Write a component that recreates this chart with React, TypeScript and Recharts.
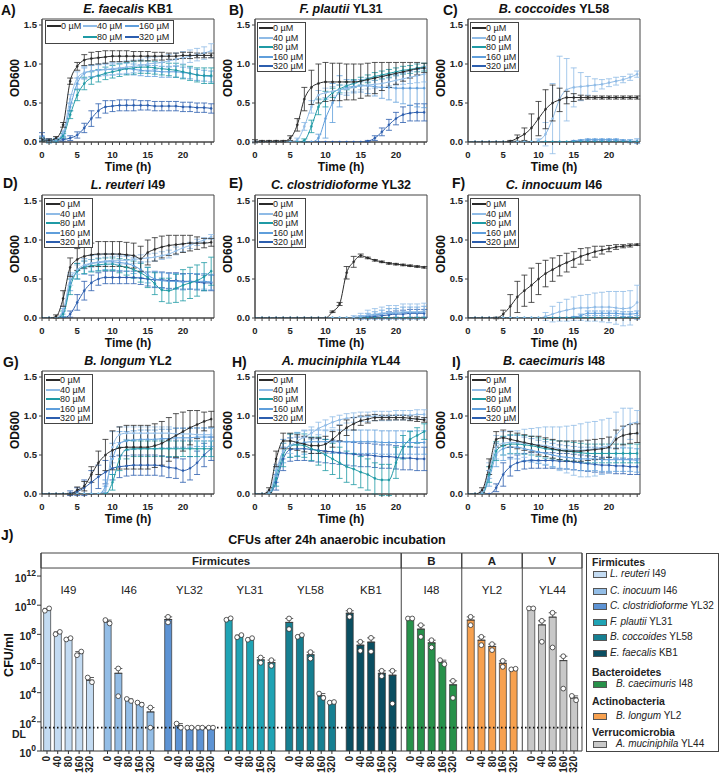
import React from 'react';
import {
  LineChart, Line, XAxis, YAxis, ErrorBar, ReferenceArea, ReferenceLine,
  ComposedChart, Bar, Cell, Scatter,
} from 'recharts';

const FONT = '"Liberation Sans", Arial, Helvetica, sans-serif';

// ---------- growth curves (OD600, hourly 0..24 h) ----------
const HOURS = [0,1,2,3,4,5,6,7,8,9,10,11,12,13,14,15,16,17,18,19,20,21,22,23,24];
const CONC_LABELS = ['0 µM', '40 µM', '80 µM', '160 µM', '320 µM'];
const SERIES_COLORS = ['#2b2b2b', '#8fbbe6', '#1f9aa5', '#5f9edb', '#2c5eae'];
const ZERO_OD = [0,0,0,0,0, 0,0,0,0,0, 0,0,0,0,0, 0,0,0,0,0, 0,0,0,0,0];

// A) E. faecalis KB1
const A0  = [0.03,0.02,0.05,0.22,0.78, 0.97,1.05,1.07,1.08,1.09, 1.10,1.10,1.10,1.10,1.10, 1.10,1.10,1.10,1.10,1.10, 1.11,1.11,1.11,1.11,1.11];
const A0e = [0.02,0.02,0.02,0.03,0.04, 0.05,0.07,0.08,0.08,0.08, 0.07,0.07,0.07,0.06,0.06, 0.06,0.05,0.05,0.04,0.04, 0.04,0.04,0.03,0.03,0.03];
const A40 = [0.05,0.01,0.03,0.12,0.55, 0.82,0.89,0.91,0.92,0.93, 0.94,0.95,0.96,0.97,0.98, 1.00,1.01,1.02,1.04,1.06, 1.08,1.10,1.12,1.14,1.17];
const A40e= [0.03,0.02,0.02,0.03,0.06, 0.08,0.08,0.08,0.08,0.08, 0.08,0.08,0.08,0.08,0.08, 0.08,0.08,0.08,0.08,0.08, 0.08,0.08,0.08,0.08,0.09];
const A80 = [0.03,0.01,0.02,0.08,0.35, 0.60,0.75,0.82,0.85,0.88, 0.90,0.92,0.94,0.95,0.96, 0.96,0.95,0.94,0.93,0.92, 0.90,0.88,0.86,0.85,0.85];
const A80e= [0.02,0.02,0.02,0.03,0.05, 0.07,0.08,0.08,0.08,0.08, 0.08,0.08,0.08,0.08,0.08, 0.08,0.08,0.08,0.08,0.09, 0.09,0.09,0.09,0.10,0.10];
const A160= [0.04,0.01,0.02,0.10,0.45, 0.75,0.88,0.91,0.92,0.93, 0.93,0.94,0.94,0.93,0.92, 0.91,0.91,0.90,0.90,0.90, 0.89,0.88,0.86,0.85,0.84];
const A160e=[0.03,0.02,0.02,0.03,0.05, 0.07,0.07,0.07,0.07,0.07, 0.07,0.07,0.07,0.07,0.07, 0.07,0.07,0.07,0.07,0.07, 0.07,0.07,0.07,0.07,0.07];
const A320= [0.08,0.02,0.02,0.03,0.05, 0.09,0.18,0.30,0.40,0.45, 0.46,0.47,0.47,0.47,0.47, 0.47,0.46,0.46,0.46,0.46, 0.45,0.45,0.44,0.44,0.43];
const A320e=[0.04,0.02,0.02,0.02,0.03, 0.04,0.06,0.10,0.09,0.08, 0.07,0.07,0.07,0.07,0.06, 0.06,0.06,0.06,0.06,0.06, 0.06,0.06,0.06,0.06,0.06];

// B) F. plautii YL31
const B0  = [0.01,0.01,0.01,0.01,0.01, 0.05,0.22,0.55,0.70,0.75, 0.77,0.77,0.77,0.77,0.77, 0.78,0.80,0.82,0.84,0.86, 0.88,0.90,0.92,0.94,0.95];
const B0e = [0.02,0.01,0.01,0.01,0.01, 0.03,0.08,0.15,0.22,0.25, 0.25,0.24,0.24,0.23,0.23, 0.22,0.21,0.20,0.18,0.16, 0.14,0.12,0.10,0.08,0.06];
const B40 = [0,0,0,0,0, 0,0.03,0.20,0.45,0.60, 0.63,0.65,0.67,0.68,0.70, 0.72,0.73,0.74,0.75,0.77, 0.79,0.81,0.83,0.85,0.87];
const B40e= [0.01,0,0,0,0, 0,0.02,0.05,0.08,0.06, 0.06,0.06,0.06,0.05,0.05, 0.05,0.05,0.05,0.05,0.05, 0.06,0.07,0.08,0.09,0.10];
const B80 = [0,0,0,0,0, 0,0,0.02,0.20,0.45, 0.55,0.63,0.68,0.72,0.75, 0.78,0.81,0.84,0.86,0.88, 0.90,0.92,0.93,0.95,0.96];
const B80e= [0,0,0,0,0, 0,0,0.02,0.08,0.10, 0.10,0.06,0.05,0.05,0.05, 0.05,0.05,0.05,0.05,0.05, 0.05,0.05,0.05,0.05,0.05];
const B160= [0,0,0,0,0, 0,0,0,0,0.05, 0.30,0.50,0.65,0.70,0.71, 0.72,0.72,0.71,0.70,0.70, 0.69,0.69,0.69,0.69,0.69];
const B160e=[0,0,0,0,0, 0,0,0,0,0.05, 0.25,0.25,0.20,0.10,0.08, 0.08,0.10,0.12,0.14,0.16, 0.18,0.20,0.22,0.24,0.25];
const B320= [0,0,0,0,0, 0,0,0,0,0, 0,0,0,0,0, 0,0.01,0.05,0.13,0.22, 0.30,0.35,0.37,0.38,0.38];
const B320e=[0,0,0,0,0, 0,0,0,0,0, 0,0,0,0,0, 0,0.01,0.03,0.05,0.07, 0.08,0.10,0.10,0.11,0.11];

// C) B. coccoides YL58
const C0  = [0,0,0,0,0, 0,0.01,0.05,0.10,0.18, 0.30,0.42,0.50,0.54,0.57, 0.57,0.57,0.57,0.57,0.57, 0.57,0.57,0.57,0.57,0.57];
const C0e = [0,0,0,0,0, 0,0.01,0.04,0.08,0.18, 0.22,0.25,0.23,0.15,0.08, 0.05,0.03,0.02,0.02,0.02, 0.02,0.02,0.02,0.02,0.02];
const C40 = [0,0,0,0,0, 0,0,0,0,0, 0.02,0.10,0.30,0.55,0.67, 0.70,0.71,0.72,0.73,0.74, 0.76,0.78,0.80,0.83,0.87];
const C40e= [0,0,0,0,0, 0,0,0,0,0, 0.02,0.15,0.45,0.55,0.40, 0.25,0.18,0.12,0.08,0.06, 0.05,0.05,0.04,0.04,0.04];
const C160= [0,0,0,0,0, 0,0,0,0,0, 0,0,0,0,0, 0.01,0.02,0.03,0.03,0.03, 0.03,0.03,0.02,0.01,0.01];
const C160e=[0,0,0,0,0, 0,0,0,0,0, 0,0,0,0,0, 0.01,0.01,0.01,0.01,0.01, 0.01,0.01,0.01,0.02,0.03];
const C320= [0,0,0,0,0, 0,0,0,0,0, 0,0,0,0,0, 0.01,0,0,0,0, 0,0,0,0,0];

// D) L. reuteri I49
const D0  = [0,0,0.02,0.25,0.65, 0.75,0.79,0.81,0.82,0.82, 0.82,0.82,0.81,0.80,0.76, 0.84,0.88,0.91,0.93,0.94, 0.95,0.96,0.96,0.96,0.97];
const D0e = [0,0,0.02,0.10,0.12, 0.14,0.15,0.15,0.16,0.16, 0.16,0.16,0.16,0.16,0.16, 0.16,0.15,0.14,0.13,0.12, 0.11,0.10,0.08,0.06,0.05];
const D40 = [0,0,0,0.10,0.50, 0.62,0.68,0.70,0.72,0.73, 0.74,0.74,0.74,0.75,0.76, 0.77,0.78,0.80,0.82,0.86, 0.90,0.93,0.97,1.00,1.04];
const D40e= [0,0,0,0.05,0.08, 0.06,0.05,0.05,0.05,0.05, 0.05,0.05,0.05,0.05,0.05, 0.05,0.05,0.05,0.05,0.05, 0.05,0.04,0.04,0.03,0.03];
const D80 = [0,0,0,0.05,0.40, 0.60,0.65,0.67,0.68,0.69, 0.69,0.67,0.65,0.62,0.58, 0.52,0.44,0.36,0.35,0.38, 0.42,0.45,0.48,0.53,0.60];
const D80e= [0,0,0,0.04,0.10, 0.10,0.08,0.08,0.08,0.08, 0.08,0.09,0.10,0.11,0.12, 0.13,0.14,0.15,0.16,0.18, 0.20,0.20,0.20,0.18,0.18];
const D160= [0,0,0,0.07,0.45, 0.60,0.66,0.70,0.71,0.72, 0.72,0.71,0.70,0.67,0.62, 0.55,0.50,0.48,0.47,0.47, 0.46,0.47,0.47,0.47,0.46];
const D160e=[0,0,0,0.05,0.10, 0.10,0.10,0.10,0.10,0.10, 0.10,0.10,0.10,0.10,0.10, 0.10,0.10,0.10,0.10,0.10, 0.10,0.10,0.10,0.10,0.10];
const D320= [0,0,0,0,0.05, 0.20,0.35,0.45,0.50,0.52, 0.52,0.52,0.52,0.52,0.51, 0.50,0.49,0.49,0.48,0.48, 0.47,0.47,0.46,0.45,0.45];
const D320e=[0,0,0,0,0.04, 0.10,0.12,0.10,0.08,0.08, 0.08,0.08,0.08,0.08,0.08, 0.09,0.10,0.10,0.10,0.10, 0.10,0.10,0.10,0.10,0.10];

// E) C. clostridioforme YL32
const E0  = [0,0,0,0,0, 0,0,0,0,0, 0,0.08,0.18,0.58,0.72, 0.80,0.77,0.74,0.72,0.70, 0.69,0.68,0.67,0.66,0.65];
const E0e = [0,0,0,0,0, 0,0,0,0,0, 0,0.01,0.02,0.08,0.07, 0.02,0.01,0.01,0.01,0.01, 0.01,0.01,0.01,0.01,0.01];
const E40 = [0,0,0,0,0, 0,0,0,0,0, 0,0,0,0,0.01, 0.02,0.04,0.05,0.06,0.07, 0.07,0.08,0.08,0.08,0.09];
const E40e= [0,0,0,0,0, 0,0,0,0,0, 0,0,0,0,0.02, 0.04,0.06,0.07,0.08,0.09, 0.09,0.10,0.10,0.10,0.10];
const E160= [0,0,0,0,0, 0,0,0,0,0, 0,0,0,0,0, 0.01,0.03,0.04,0.05,0.06, 0.06,0.07,0.07,0.07,0.08];
const E160e=[0,0,0,0,0, 0,0,0,0,0, 0,0,0,0,0, 0.02,0.03,0.04,0.05,0.06, 0.06,0.07,0.07,0.07,0.07];
const E320= [0,0,0,0,0, 0,0,0,0,0, 0,0,0,0,0, 0,0.01,0.02,0.03,0.04, 0.05,0.05,0.06,0.06,0.06];
const E320e=[0,0,0,0,0, 0,0,0,0,0, 0,0,0,0,0, 0,0.01,0.02,0.03,0.04, 0.04,0.05,0.05,0.05,0.05];

// F) C. innocuum I46
const F0  = [0,0,0,0,0, 0.05,0.15,0.27,0.35,0.42, 0.50,0.57,0.62,0.67,0.71, 0.75,0.79,0.82,0.85,0.87, 0.89,0.91,0.92,0.93,0.94];
const F0e = [0,0,0,0,0.01, 0.05,0.15,0.20,0.20,0.22, 0.20,0.17,0.15,0.13,0.12, 0.10,0.10,0.08,0.07,0.05, 0.04,0.03,0.02,0.02,0.01];
const F40 = [0,0,0,0,0, 0,0,0,0,0, 0,0.02,0.05,0.08,0.10, 0.12,0.13,0.13,0.14,0.14, 0.14,0.13,0.12,0.13,0.20];
const F40e= [0,0,0,0,0, 0,0,0,0,0, 0,0.05,0.10,0.12,0.14, 0.15,0.16,0.17,0.18,0.19, 0.20,0.21,0.22,0.22,0.22];
const F160= [0,0,0,0,0, 0,0,0,0,0, 0,0,0,0,0, 0.01,0.03,0.06,0.06,0.06, 0.06,0.06,0.05,0.05,0.06];
const F160e=[0,0,0,0,0, 0,0,0,0,0, 0,0,0,0,0, 0.01,0.02,0.03,0.03,0.03, 0.03,0.03,0.03,0.03,0.03];

// G) B. longum YL2
const G0  = [0,0,0,0,0, 0.05,0.10,0.25,0.40,0.50, 0.56,0.59,0.60,0.60,0.60, 0.60,0.62,0.65,0.70,0.75, 0.80,0.85,0.89,0.93,0.96];
const G0e = [0,0,0,0,0.01, 0.04,0.06,0.10,0.15,0.20, 0.25,0.27,0.28,0.28,0.28, 0.28,0.28,0.28,0.28,0.28, 0.25,0.22,0.18,0.12,0.10];
const G40 = [0,0,0,0,0, 0,0,0,0,0.05, 0.60,0.76,0.78,0.78,0.78, 0.78,0.78,0.78,0.78,0.77, 0.77,0.77,0.76,0.76,0.76];
const G40e= [0,0,0,0,0, 0,0,0,0,0.05, 0.20,0.10,0.08,0.08,0.08, 0.08,0.08,0.08,0.08,0.08, 0.08,0.08,0.08,0.08,0.08];
const G80 = [0,0,0,0,0, 0,0,0,0,0, 0.15,0.45,0.57,0.58,0.58, 0.58,0.58,0.58,0.58,0.58, 0.58,0.58,0.58,0.58,0.58];
const G80e= [0,0,0,0,0, 0,0,0,0,0, 0.10,0.15,0.12,0.10,0.10, 0.10,0.10,0.10,0.10,0.10, 0.10,0.10,0.10,0.10,0.10];
const G160= [0,0,0,0,0, 0,0,0,0,0.10, 0.45,0.65,0.68,0.69,0.70, 0.70,0.70,0.71,0.71,0.72, 0.72,0.72,0.73,0.73,0.73];
const G160e=[0,0,0,0,0, 0,0,0,0,0.08, 0.20,0.15,0.12,0.12,0.12, 0.12,0.12,0.12,0.12,0.12, 0.12,0.12,0.12,0.12,0.12];
const G320= [0,0,0,0,0.01, 0.03,0.08,0.15,0.22,0.28, 0.33,0.35,0.36,0.37,0.37, 0.37,0.37,0.36,0.34,0.33, 0.30,0.33,0.40,0.50,0.58];
const G320e=[0,0,0,0,0.03, 0.05,0.10,0.15,0.15,0.15, 0.15,0.14,0.13,0.13,0.13, 0.13,0.13,0.13,0.13,0.13, 0.15,0.15,0.15,0.15,0.15];

// H) A. muciniphila YL44
const H0  = [0,0,0.05,0.45,0.68, 0.68,0.66,0.64,0.62,0.62, 0.64,0.70,0.78,0.85,0.90, 0.94,0.96,0.98,0.98,0.98, 0.98,0.98,0.97,0.96,0.95];
const H0e = [0,0,0.03,0.10,0.10, 0.10,0.10,0.10,0.10,0.10, 0.10,0.10,0.10,0.10,0.08, 0.06,0.05,0.04,0.03,0.03, 0.03,0.03,0.03,0.03,0.03];
const H40 = [0,0,0.02,0.30,0.55, 0.62,0.68,0.73,0.78,0.84, 0.88,0.92,0.95,0.97,0.98, 0.99,0.99,1.00,1.00,1.00, 1.01,1.01,1.01,1.02,1.02];
const H40e= [0,0,0.02,0.08,0.10, 0.10,0.10,0.09,0.08,0.08, 0.07,0.07,0.06,0.06,0.06, 0.06,0.06,0.06,0.06,0.06, 0.06,0.06,0.06,0.06,0.06];
const H80 = [0,0,0,0.20,0.50, 0.62,0.63,0.62,0.58,0.55, 0.50,0.45,0.40,0.35,0.32, 0.28,0.25,0.20,0.18,0.18, 0.40,0.60,0.70,0.75,0.80];
const H80e= [0,0,0,0.10,0.15, 0.15,0.15,0.15,0.15,0.18, 0.20,0.20,0.20,0.20,0.20, 0.20,0.20,0.20,0.20,0.20, 0.20,0.15,0.10,0.10,0.10];
const H160= [0,0,0,0.25,0.55, 0.62,0.64,0.66,0.67,0.67, 0.67,0.67,0.67,0.67,0.67, 0.67,0.67,0.67,0.66,0.66, 0.66,0.66,0.66,0.66,0.66];
const H160e=[0,0,0,0.10,0.15, 0.15,0.15,0.15,0.15,0.15, 0.15,0.15,0.15,0.15,0.15, 0.15,0.15,0.15,0.15,0.15, 0.15,0.15,0.15,0.15,0.15];
const H320= [0,0,0,0.15,0.45, 0.57,0.58,0.58,0.57,0.56, 0.55,0.54,0.53,0.52,0.51, 0.50,0.50,0.49,0.48,0.48, 0.47,0.46,0.46,0.45,0.45];
const H320e=[0,0,0,0.10,0.15, 0.15,0.15,0.15,0.15,0.15, 0.15,0.15,0.15,0.15,0.15, 0.15,0.15,0.15,0.15,0.15, 0.15,0.15,0.15,0.15,0.15];

// I) B. caecimuris I48
const I0  = [0,0,0.05,0.35,0.70, 0.72,0.70,0.68,0.66,0.64, 0.62,0.60,0.58,0.56,0.55, 0.55,0.55,0.56,0.57,0.58, 0.60,0.70,0.75,0.77,0.78];
const I0e = [0,0,0.03,0.10,0.10, 0.10,0.10,0.10,0.10,0.10, 0.12,0.12,0.12,0.12,0.13, 0.13,0.13,0.13,0.13,0.13, 0.13,0.12,0.12,0.12,0.12];
const I40 = [0,0,0.02,0.30,0.60, 0.65,0.66,0.66,0.65,0.64, 0.63,0.62,0.60,0.58,0.57, 0.56,0.56,0.57,0.58,0.60, 0.62,0.75,0.85,0.90,0.92];
const I40e= [0,0,0.02,0.10,0.15, 0.15,0.15,0.15,0.18,0.20, 0.22,0.24,0.26,0.28,0.30, 0.32,0.34,0.35,0.35,0.35, 0.35,0.30,0.25,0.20,0.15];
const I80 = [0,0,0,0.25,0.55, 0.62,0.64,0.64,0.63,0.62, 0.60,0.58,0.57,0.56,0.55, 0.54,0.53,0.52,0.52,0.52, 0.52,0.52,0.52,0.52,0.52];
const I80e= [0,0,0,0.10,0.12, 0.12,0.12,0.12,0.12,0.12, 0.12,0.12,0.12,0.12,0.12, 0.12,0.12,0.12,0.12,0.12, 0.12,0.12,0.12,0.12,0.12];
const I160= [0,0,0,0.20,0.50, 0.58,0.60,0.60,0.58,0.56, 0.54,0.52,0.50,0.48,0.47, 0.46,0.45,0.45,0.45,0.44, 0.44,0.44,0.44,0.44,0.43];
const I160e=[0,0,0,0.10,0.15, 0.15,0.15,0.15,0.15,0.15, 0.15,0.15,0.15,0.15,0.15, 0.15,0.15,0.15,0.15,0.15, 0.15,0.15,0.15,0.15,0.15];
const I320= [0,0,0,0,0.08, 0.25,0.35,0.40,0.42,0.43, 0.43,0.43,0.43,0.42,0.42, 0.41,0.40,0.39,0.38,0.37, 0.37,0.36,0.36,0.35,0.35];
const I320e=[0,0,0,0,0.05, 0.15,0.12,0.10,0.10,0.10, 0.10,0.10,0.10,0.10,0.10, 0.10,0.10,0.10,0.10,0.10, 0.10,0.10,0.10,0.10,0.10];

const PANELS = [
  { letter: 'A)', species: 'E. faecalis', strain: 'KB1', wide: true,
    means: [A0, A40, A80, A160, A320], errs: [A0e, A40e, A80e, A160e, A320e] },
  { letter: 'B)', species: 'F. plautii', strain: 'YL31',
    means: [B0, B40, B80, B160, B320], errs: [B0e, B40e, B80e, B160e, B320e] },
  { letter: 'C)', species: 'B. coccoides', strain: 'YL58',
    means: [C0, C40, ZERO_OD, C160, C320], errs: [C0e, C40e, ZERO_OD, C160e, ZERO_OD] },
  { letter: 'D)', species: 'L. reuteri', strain: 'I49',
    means: [D0, D40, D80, D160, D320], errs: [D0e, D40e, D80e, D160e, D320e] },
  { letter: 'E)', species: 'C. clostridioforme', strain: 'YL32',
    means: [E0, E40, ZERO_OD, E160, E320], errs: [E0e, E40e, ZERO_OD, E160e, E320e] },
  { letter: 'F)', species: 'C. innocuum', strain: 'I46',
    means: [F0, F40, ZERO_OD, F160, ZERO_OD], errs: [F0e, F40e, ZERO_OD, F160e, ZERO_OD] },
  { letter: 'G)', species: 'B. longum', strain: 'YL2',
    means: [G0, G40, G80, G160, G320], errs: [G0e, G40e, G80e, G160e, G320e] },
  { letter: 'H)', species: 'A. muciniphila', strain: 'YL44',
    means: [H0, H40, H80, H160, H320], errs: [H0e, H40e, H80e, H160e, H320e] },
  { letter: 'I)', species: 'B. caecimuris', strain: 'I48',
    means: [I0, I40, I80, I160, I320], errs: [I0e, I40e, I80e, I160e, I320e] },
];

const OD_TICKS = [0, 0.5, 1.0, 1.5];
const TIME_MAJOR = [0, 5, 10, 15, 20];

// ---------- CFU bar chart (log10 CFU/ml) ----------
const CONCS = ['0', '40', '80', '160', '320'];
const GROUPS = ['I49', 'I46', 'YL32', 'YL31', 'YL58', 'KB1', 'I48', 'YL2', 'YL44'];
const BAR_COLORS = ['#c3dbf2', '#93bde6', '#5d93d4', '#1fa3b4', '#167f91', '#0a4e61', '#27914a', '#f7a14f', '#c8c8c8'];
const DL_LOG = 1.6;

const I49_MEAN = [9.66, 8.06, 7.67, 6.69, 4.85];
const I49_REP1 = [9.62, 8.01, 7.65, 6.57, 5.04];
const I49_REP2 = [9.78, 8.17, 7.74, 6.82, 4.72];
const I46_MEAN = [8.86, 5.33, 3.48, 3.25, 2.68];
const I46_REP1 = [8.98, 5.66, 3.57, 3.32, 2.98];
const I46_REP2 = [8.75, 3.76, 3.43, 3.18, 1.60];
const YL32_MEAN = [9.02, 1.74, 1.60, 1.60, 1.60];
const YL32_REP1 = [9.20, 1.88, 1.60, 1.60, 1.60];
const YL32_REP2 = [8.82, 1.60, 1.60, 1.60, 1.60];
const YL31_MEAN = [9.05, 7.88, 7.69, 6.25, 6.06];
const YL31_REP1 = [9.00, 7.80, 7.63, 6.41, 6.23];
const YL31_REP2 = [9.10, 7.95, 7.74, 6.05, 5.84];
const YL58_MEAN = [8.82, 7.89, 6.60, 3.78, 3.34];
const YL58_REP1 = [9.09, 7.83, 6.78, 3.94, 3.32];
const YL58_REP2 = [8.36, 7.95, 6.34, 3.64, 3.36];
const KB1_MEAN = [9.45, 7.26, 7.47, 5.33, 5.20];
const KB1_REP1 = [9.62, 7.49, 7.76, 5.50, 5.50];
const KB1_REP2 = [9.20, 6.87, 6.82, 5.13, 3.25];
const I48_MEAN = [9.09, 8.36, 7.42, 6.10, 4.54];
const I48_REP1 = [9.09, 8.63, 7.60, 6.23, 4.81];
const I48_REP2 = [9.09, 7.83, 7.10, 5.95, 3.64];
const YL2_MEAN = [8.98, 7.60, 7.17, 6.02, 5.62];
const YL2_REP1 = [9.20, 7.83, 7.33, 6.18, 5.60];
const YL2_REP2 = [8.63, 7.26, 6.92, 5.77, 5.64];
const YL44_MEAN = [9.78, 8.65, 9.18, 6.20, 3.64];
const YL44_REP1 = [9.78, 8.93, 9.48, 6.50, 3.78];
const YL44_REP2 = [9.78, 7.49, 7.10, 4.28, 3.48];

const GROUP_MEANS = [I49_MEAN, I46_MEAN, YL32_MEAN, YL31_MEAN, YL58_MEAN, KB1_MEAN, I48_MEAN, YL2_MEAN, YL44_MEAN];
const GROUP_REP1 = [I49_REP1, I46_REP1, YL32_REP1, YL31_REP1, YL58_REP1, KB1_REP1, I48_REP1, YL2_REP1, YL44_REP1];
const GROUP_REP2 = [I49_REP2, I46_REP2, YL32_REP2, YL31_REP2, YL58_REP2, KB1_REP2, I48_REP2, YL2_REP2, YL44_REP2];

const PHYLA = [
  { name: 'Firmicutes', short: 'Firmicutes' },
  { name: 'Bacteroidetes', short: 'B' },
  { name: 'Actinobacteria', short: 'A' },
  { name: 'Verrucomicrobia', short: 'V' },
];
const LEGEND_ITEMS = [
  { header: 'Firmicutes' },
  { g: 0, species: 'L. reuteri', strain: 'I49' },
  { g: 1, species: 'C. inocuum', strain: 'I46' },
  { g: 2, species: 'C. clostridioforme', strain: 'YL32' },
  { g: 3, species: 'F. plautii', strain: 'YL31' },
  { g: 4, species: 'B. coccoides', strain: 'YL58' },
  { g: 5, species: 'E. faecalis', strain: 'KB1' },
  { header: 'Bacteroidetes' },
  { g: 6, species: 'B. caecimuris', strain: 'I48', indent: true },
  { header: 'Actinobacteria' },
  { g: 7, species: 'B. longum', strain: 'YL2', indent: true },
  { header: 'Verrucomicrobia' },
  { g: 8, species: 'A. muciniphila', strain: 'YL44', indent: true },
];
const LEGEND_Y = [8, 20, 37, 52, 68, 83, 99, 118, 130, 147, 162, 178, 190];

// ---------- layout ----------
const GROUP_STEP = 5.65;
const X_MIN = -0.56;
const X_MAX = 49.95;
const Y_MAX = Math.pow(10, 13.58);
const HEADER_LOW = Math.pow(10, 12.55);
const LOG_TICKS = [1, 1e2, 1e4, 1e6, 1e8, 1e10, 1e12];

const barRows: any[] = [];
const rep1Rows: any[] = [];
const rep2Rows: any[] = [];
GROUPS.forEach((name, gi) => {
  CONCS.forEach((c, ci) => {
    const x = gi * GROUP_STEP + ci;
    const mean = Math.pow(10, GROUP_MEANS[gi][ci]);
    const r1 = Math.pow(10, GROUP_REP1[gi][ci]);
    const r2 = Math.pow(10, GROUP_REP2[gi][ci]);
    const hi = Math.max(r1, r2);
    barRows.push({ x, mean, g: gi, err: [0, Math.max(hi - mean, 0)] });
    const close = Math.abs(GROUP_REP1[gi][ci] - GROUP_REP2[gi][ci]) < 0.35;
    rep1Rows.push({ x: close ? x - 0.2 : x, y: r1 });
    rep2Rows.push({ x: close ? x + 0.2 : x, y: r2 });
  });
});
const BAR_XS = barRows.map((r) => r.x);
const groupLabelRows = GROUPS.map((name, gi) => ({ x: gi * GROUP_STEP + 2, y: Math.pow(10, 11.04), name }));
const sepAfter = (g: number) => (g * GROUP_STEP + 4 + (g + 1) * GROUP_STEP) / 2;

const PLOT_LEFT0 = 42;
const COL_STEP = 213;
const PLOT_TOP0 = 19;
const ROW_STEP = 176;
const PLOT_W = 172;
const PLOT_H = 123;
const LETTER_POS = [[1, 10], [229, 10], [443, 10], [3, 183], [229, 183], [452, 183], [3, 362], [232, 362], [452, 362]];

const TimeTick = (props: any) => {
  const { x, y, payload } = props;
  if (TIME_MAJOR.indexOf(payload.value) < 0) return null;
  return (
    <text x={x} y={y} dy={10.5} textAnchor="middle" fontFamily={FONT} fontSize={9.5} fontWeight="bold" fill="#222">
      {payload.value}
    </text>
  );
};

function PanelLegend({ wide, L, T }: any) {
  const item = (k: number, x: number, y: number) => (
    <div key={k} style={{ position: 'absolute', left: x, top: y - 6, height: 12, display: 'flex', alignItems: 'center', fontSize: 9, color: '#222', whiteSpace: 'nowrap', lineHeight: '12px' }}>
      <span style={{ display: 'inline-block', width: 14, height: k === 0 ? 1.6 : 2, background: SERIES_COLORS[k], marginRight: 0 }} />
      <span>{CONC_LABELS[k]}</span>
    </div>
  );
  if (wide) {
    return (
      <div style={{ position: 'absolute', left: L + 3, top: T + 1, width: 129, height: 24, border: '1px solid #444', background: '#fff', boxSizing: 'border-box' }}>
        {item(0, 1, 5)}{item(1, 37, 5)}{item(3, 79, 5)}{item(2, 37, 16)}{item(4, 79, 16)}
      </div>
    );
  }
  return (
    <div style={{ position: 'absolute', left: L + 2, top: T + 3, width: 49, height: 50, border: '1px solid #444', background: '#fff', boxSizing: 'border-box' }}>
      {[0, 1, 2, 3, 4].map((k) => item(k, 1, 5 + k * 9.5))}
    </div>
  );
}

function GrowthPanel({ panel, index }: any) {
  const row = Math.floor(index / 3);
  const col = index % 3;
  const L = PLOT_LEFT0 + COL_STEP * col;
  const T = PLOT_TOP0 + ROW_STEP * row;
  const rows = HOURS.map((t, i) => {
    const r: any = { t };
    panel.means.forEach((arr: number[], k: number) => {
      r['m' + k] = arr[i];
      r['e' + k] = panel.errs[k][i];
    });
    return r;
  });
  const order = [4, 3, 2, 1, 0];
  return (
    <>
      <div style={{ position: 'absolute', left: L - 40, top: T - 19, width: 217, height: 177 }}>
        <LineChart width={217} height={177} data={rows} margin={{ top: 19, right: 5, left: 0, bottom: 0 }}>
          <XAxis dataKey="t" type="number" domain={[0, 24.4]} ticks={HOURS} interval={0} allowDataOverflow
            height={35} tick={<TimeTick />} tickSize={3} tickMargin={2}
            tickLine={{ stroke: '#444' }} axisLine={{ stroke: '#444' }} />
          <YAxis type="number" domain={[0, 1.577]} ticks={OD_TICKS} allowDataOverflow width={40}
            tickFormatter={(v: number) => v.toFixed(1)} tickSize={3} tickMargin={2}
            tick={{ fontSize: 9.5, fontWeight: 'bold', fill: '#222', fontFamily: FONT }}
            tickLine={{ stroke: '#444' }} axisLine={{ stroke: '#444' }} />
          <ReferenceArea x1={0} x2={24.4} y1={0} y2={1.577} fill="none" stroke="#444" strokeWidth={1} ifOverflow="visible" />
          {order.map((k) => (
            <Line key={k} dataKey={'m' + k} type="monotone" stroke={SERIES_COLORS[k]} strokeWidth={1}
              dot={{ r: 1.1, fill: SERIES_COLORS[k], stroke: SERIES_COLORS[k], strokeWidth: 0.4 }}
              activeDot={false} isAnimationActive={false}>
              <ErrorBar dataKey={'e' + k} width={3} stroke={SERIES_COLORS[k]} strokeWidth={0.8} direction="y" />
            </Line>
          ))}
        </LineChart>
      </div>
      <PanelLegend wide={panel.wide} L={L} T={T} />
      <div style={{ position: 'absolute', left: L, top: T - 18, width: PLOT_W, textAlign: 'center', fontSize: 12.5, fontWeight: 'bold', color: '#111', lineHeight: '16px', whiteSpace: 'nowrap' }}>
        <i>{panel.species}</i> {panel.strain}
      </div>
      <div style={{ position: 'absolute', left: LETTER_POS[index][0], top: LETTER_POS[index][1] - 9, fontSize: 14, fontWeight: 'bold', color: '#111', lineHeight: '18px' }}>
        {panel.letter}
      </div>
      <div style={{ position: 'absolute', left: L - 27 - 30, top: T + 59 - 8, width: 60, height: 16, textAlign: 'center', transform: 'rotate(-90deg)', fontSize: 12, fontWeight: 'bold', color: '#111', lineHeight: '16px' }}>
        OD600
      </div>
      <div style={{ position: 'absolute', left: L, top: T + PLOT_H + 17, width: PLOT_W, textAlign: 'center', fontSize: 12, fontWeight: 'bold', color: '#111', lineHeight: '16px' }}>
        Time (h)
      </div>
    </>
  );
}

const PowTick = (props: any) => {
  const { x, y, payload } = props;
  const exp = Math.round(Math.log10(payload.value));
  return (
    <text x={x} y={y + 6} textAnchor="end" fontFamily={FONT} fontWeight="bold" fontSize={10.5} fill="#222">
      <tspan>10</tspan>
      <tspan dy={-6} fontSize={8.5}>{exp}</tspan>
    </text>
  );
};

const ConcTick = (props: any) => {
  const { x, y, payload } = props;
  const idx = BAR_XS.indexOf(payload.value);
  return (
    <text transform={`translate(${x + 3.5},${y}) rotate(-90)`} textAnchor="end" fontFamily={FONT} fontWeight="bold" fontSize={10} fill="#222">
      {CONCS[(idx < 0 ? 0 : idx) % 5]}
    </text>
  );
};

const RepDot = (props: any) => (
  <circle cx={props.cx} cy={props.cy} r={2.4} fill="#fff" stroke="#333" strokeWidth={0.8} />
);
const GroupLabel = (props: any) => (
  <text x={props.cx} y={props.cy} dy={4} textAnchor="middle" fontFamily={FONT} fontSize={11.5} fill="#222">
    {props.payload.name}
  </text>
);
const DlLabel = (props: any) => {
  const vb = props.viewBox || {};
  return (
    <text x={(vb.x || 41) - 22} y={(vb.y || 727) + 10} textAnchor="middle" fontFamily={FONT} fontWeight="bold" fontSize={10.5} fill="#222">DL</text>
  );
};

function CfuChart() {
  const seps = [sepAfter(5), sepAfter(6), sepAfter(7)];
  const bounds = [X_MIN, seps[0], seps[1], seps[2], X_MAX];
  return (
    <div style={{ position: 'absolute', left: 0, top: 545, width: 590, height: 232 }}>
      <ComposedChart width={590} height={232} data={barRows} margin={{ top: 8, right: 8, left: 0, bottom: 0 }}>
        <XAxis dataKey="x" type="number" scale="linear" domain={[X_MIN, X_MAX]} ticks={BAR_XS} interval={0}
          allowDataOverflow height={26} tick={<ConcTick />} tickSize={3} tickMargin={2}
          tickLine={{ stroke: '#333' }} axisLine={{ stroke: '#333' }} />
        <XAxis xAxisId="pts" dataKey="x" type="number" scale="linear" domain={[X_MIN, X_MAX]} allowDataOverflow hide />
        <YAxis type="number" scale="log" domain={[1, Y_MAX]} ticks={LOG_TICKS} interval={0} allowDataOverflow
          width={41} tick={<PowTick />} tickSize={4} tickMargin={1}
          tickLine={{ stroke: '#333' }} axisLine={{ stroke: '#333' }} />
        {PHYLA.map((p, i) => (
          <ReferenceArea key={p.name} x1={bounds[i]} x2={bounds[i + 1]} y1={HEADER_LOW} y2={Y_MAX}
            fill="#fff" fillOpacity={1} stroke="#444" strokeWidth={1} ifOverflow="visible"
            label={{ value: p.short, position: 'center', fontSize: 11.5, fontWeight: 'bold', fill: '#222', fontFamily: FONT }} />
        ))}
        {seps.concat([X_MAX]).map((s, i) => (
          <ReferenceLine key={'s' + i} x={s} stroke="#444" strokeWidth={1} ifOverflow="visible" />
        ))}
        <ReferenceLine y={Math.pow(10, DL_LOG)} stroke="#111" strokeWidth={1.6} strokeDasharray="1.5 2.5" label={<DlLabel />} />
        <Bar dataKey="mean" barSize={7} stroke="#333" strokeWidth={0.7} isAnimationActive={false}>
          {barRows.map((r, i) => (
            <Cell key={i} fill={BAR_COLORS[r.g]} />
          ))}
          <ErrorBar dataKey="err" direction="y" width={4} stroke="#333" strokeWidth={0.8} />
        </Bar>
        <Scatter xAxisId="pts" data={rep1Rows} dataKey="y" shape={<RepDot />} isAnimationActive={false} />
        <Scatter xAxisId="pts" data={rep2Rows} dataKey="y" shape={<RepDot />} isAnimationActive={false} />
        <Scatter xAxisId="pts" data={groupLabelRows} dataKey="y" shape={<GroupLabel />} isAnimationActive={false} />
      </ComposedChart>
    </div>
  );
}

function CfuLegend() {
  return (
    <div style={{ position: 'absolute', left: 586, top: 553, width: 133, height: 199, border: '1px solid #444', boxSizing: 'border-box', background: '#fff' }}>
      {LEGEND_ITEMS.map((it: any, i) => {
        const y = LEGEND_Y[i];
        if (it.header) {
          return (
            <div key={i} style={{ position: 'absolute', left: 5, top: y - 7, fontSize: 10.5, fontWeight: 'bold', color: '#222', lineHeight: '14px', whiteSpace: 'nowrap' }}>{it.header}</div>
          );
        }
        return (
          <div key={i} style={{ position: 'absolute', left: 6, top: y - 7, height: 14, display: 'flex', alignItems: 'center', fontSize: 10, color: '#222', whiteSpace: 'nowrap', lineHeight: '14px' }}>
            <span style={{ display: 'inline-block', width: 14, height: 7, background: BAR_COLORS[it.g], border: '1px solid #555', boxSizing: 'border-box', marginRight: it.indent ? 9 : 3 }} />
            <span><i>{it.species}</i> {it.strain}</span>
          </div>
        );
      })}
    </div>
  );
}

export default function App() {
  return (
    <div style={{ position: 'absolute', left: 0, top: 0, width: 720, height: 777, background: '#fff', fontFamily: FONT, overflow: 'hidden' }}>
      {PANELS.map((p, i) => <GrowthPanel key={i} panel={p} index={i} />)}
      <div style={{ position: 'absolute', left: 1, top: 526, fontSize: 14, fontWeight: 'bold', color: '#111', lineHeight: '18px' }}>J)</div>
      <div style={{ position: 'absolute', left: 137, top: 532, width: 400, textAlign: 'center', fontSize: 12.5, fontWeight: 'bold', color: '#111', lineHeight: '16px' }}>
        CFUs after 24h anaerobic incubation
      </div>
      <CfuChart />
      <div style={{ position: 'absolute', left: 9 - 30, top: 655 - 8, width: 60, height: 16, textAlign: 'center', transform: 'rotate(-90deg)', fontSize: 12.5, fontWeight: 'bold', color: '#111', lineHeight: '16px' }}>
        CFU/ml
      </div>
      <CfuLegend />
    </div>
  );
}
